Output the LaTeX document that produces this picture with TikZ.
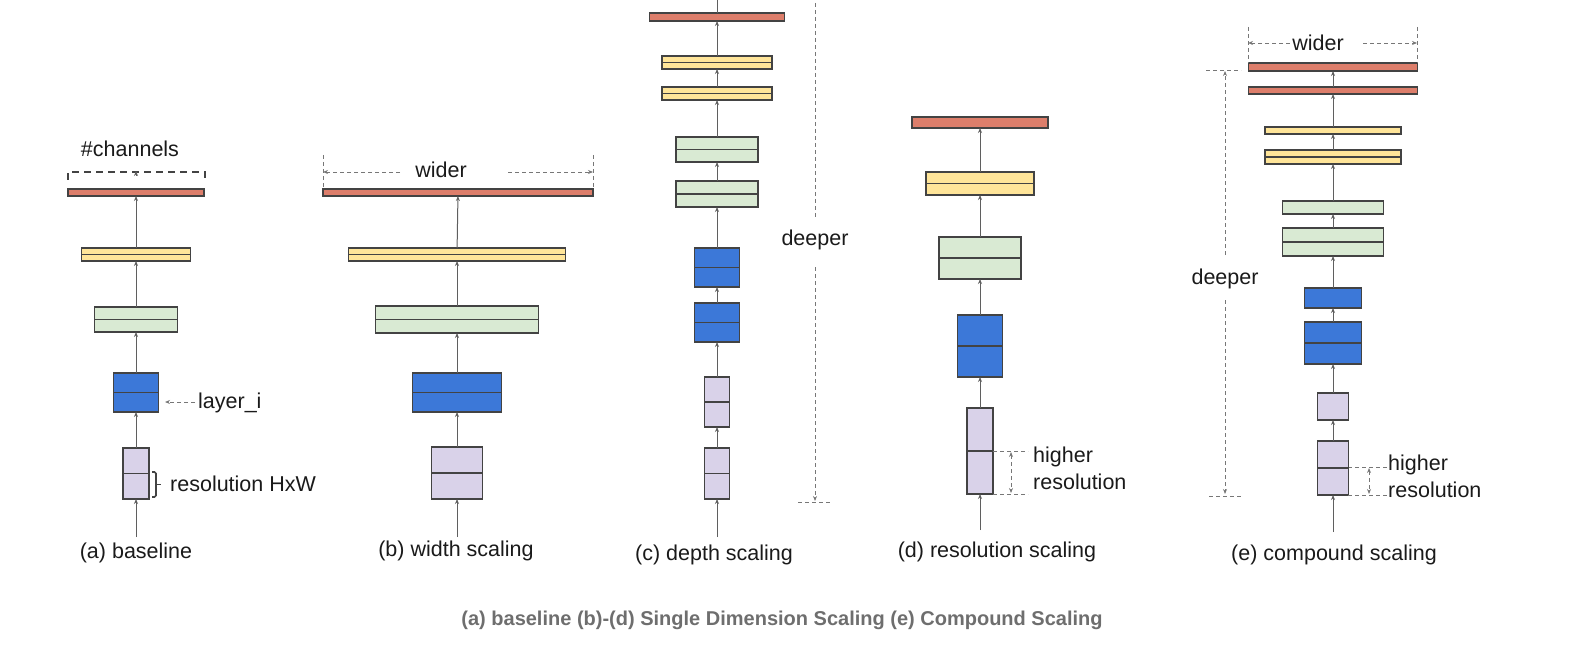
\documentclass[tikz,border=0pt]{standalone}
\usepackage{fontspec}
\setmainfont{Liberation Sans}
\usetikzlibrary{arrows.meta}

\definecolor{redc}{HTML}{DD7E6B}
\definecolor{yellowc}{HTML}{FFE599}
\definecolor{greenc}{HTML}{D9EAD3}
\definecolor{bluec}{HTML}{3C78D8}
\definecolor{lavc}{HTML}{D9D2E9}
\definecolor{edgec}{HTML}{434343}
\definecolor{flowc}{HTML}{5F5F5F}
\definecolor{dimc}{HTML}{777777}
\definecolor{textc}{HTML}{1A1A1A}
\definecolor{capc}{HTML}{6E6E6E}

\tikzset{
  layer/.style={draw=edgec, line width=1.4pt, inner sep=0pt, outer sep=0pt},
  redbar/.style={layer, fill=redc},
  yellowbox/.style={layer, fill=yellowc},
  greenbox/.style={layer, fill=greenc},
  bluebox/.style={layer, fill=bluec},
  lavbox/.style={layer, fill=lavc},
  midline/.style={draw=edgec, line width=1.4pt},
  flow/.style={draw=flowc, line width=1pt, -{Stealth[length=5pt,width=4pt]}},
  dim/.style={draw=dimc, line width=0.9pt, dash pattern=on 4pt off 3pt},
  tip/.style={-{Stealth[length=5pt,width=4pt]}},
  lbl/.style={font=\fontsize{21.5}{27}\selectfont, text=textc, inner sep=0pt},
}

\begin{document}
\begin{tikzpicture}[x=1pt,y=-1pt]
  \useasboundingbox (0,0) rectangle (1570,652);

  % (a) baseline
  \node[lavbox, minimum width=26pt, minimum height=51pt] (a1) at (136,473.5) {};
  \node[bluebox, minimum width=45pt, minimum height=39pt] (a2) at (136,392.5) {};
  \node[greenbox, minimum width=83pt, minimum height=25pt] (a3) at (136,319.5) {};
  \node[yellowbox, minimum width=109pt, minimum height=13pt] (a4) at (136,254.5) {};
  \node[redbar, minimum width=136pt, minimum height=7pt] (a5) at (136,192.5) {};
  \coordinate (a0) at (136,537);
  \draw[flow] (a0) -- (a1);
  \draw[flow] (a1) -- (a2);
  \draw[flow] (a2) -- (a3);
  \draw[flow] (a3) -- (a4);
  \draw[flow] (a4) -- (a5);

  \draw[draw=edgec, line width=2pt, dash pattern=on 7pt off 5pt] (68,180) -- (68,172) -- (205,172) -- (205,180);
  \draw[draw=flowc, line width=1pt, tip] (136,176) -- (136,171);
  \node[lbl] (chan) at (130,149) {\#channels};

  \node[lbl, anchor=west] (layi) at (198,403) {layer\_i};
  \draw[dim, tip] (195,402) -- (165,402);

  \draw[draw=edgec, line width=1.6pt, rounded corners=1.5pt] (152,472) -- (156,472) -- (156,497) -- (152,497);
  \draw[draw=edgec, line width=1.6pt] (156,484.5) -- (161,484.5);
  \node[lbl, anchor=west] (resa) at (170,484) {resolution HxW};

  \node[lbl] (capa) at (136,553) {(a) baseline};

  % (b) width scaling
  \node[lavbox, minimum width=51pt, minimum height=52pt] (b1) at (457,473) {};
  \node[bluebox, minimum width=89pt, minimum height=39pt] (b2) at (457,392.5) {};
  \node[greenbox, minimum width=163pt, minimum height=27pt] (b3) at (457,319.5) {};
  \node[yellowbox, minimum width=217pt, minimum height=13pt] (b4) at (457,254.5) {};
  \node[redbar, minimum width=270pt, minimum height=7pt] (b5) at (458,192.5) {};
  \coordinate (b0) at (457,537);
  \draw[flow] (b0) -- (b1);
  \draw[flow] (b1) -- (b2);
  \draw[flow] (b2) -- (b3);
  \draw[flow] (b3) -- (b4);
  \draw[flow] (b4) -- (b5);

  \node[lbl] (widb) at (441,170) {wider};
  \draw[dim] (323,155) -- (323,189);
  \draw[dim] (593,155) -- (593,189);
  \draw[dim, tip] (400,172) -- (323,172);
  \draw[dim, tip] (508,172) -- (593,172);

  \node[lbl] (capb) at (456,551) {(b) width scaling};

  % (c) depth scaling
  \node[lavbox, minimum width=25pt, minimum height=51pt] (c1) at (717,473.5) {};
  \node[lavbox, minimum width=25pt, minimum height=50pt] (c2) at (717,402) {};
  \node[bluebox, minimum width=45pt, minimum height=39pt] (c3) at (717,322.5) {};
  \node[bluebox, minimum width=45pt, minimum height=39pt] (c4) at (717,267.5) {};
  \node[greenbox, minimum width=82pt, minimum height=26pt] (c5) at (717,194) {};
  \node[greenbox, minimum width=82pt, minimum height=25pt] (c6) at (717,149.5) {};
  \node[yellowbox, minimum width=110pt, minimum height=13pt] (c7) at (717,93.5) {};
  \node[yellowbox, minimum width=110pt, minimum height=13pt] (c8) at (717,62.5) {};
  \node[redbar, minimum width=135pt, minimum height=8pt] (c9) at (717,17) {};
  \coordinate (c0) at (717,537);
  \coordinate (ctop) at (717,0);
  \draw[flow] (c0) -- (c1);
  \draw[flow] (c1) -- (c2);
  \draw[flow] (c2) -- (c3);
  \draw[flow] (c3) -- (c4);
  \draw[flow] (c4) -- (c5);
  \draw[flow] (c5) -- (c6);
  \draw[flow] (c6) -- (c7);
  \draw[flow] (c7) -- (c8);
  \draw[flow] (c8) -- (c9);
  \draw[draw=flowc, line width=1pt] (c9) -- (ctop);

  \node[lbl] (depc) at (815,240) {deeper};
  \draw[dim] (815,3) -- (815,217);
  \draw[dim, tip] (815,267) -- (815,501);
  \draw[dim] (798,502) -- (831,502);

  \node[lbl] (capc) at (714,555) {(c) depth scaling};

  % (d) resolution scaling
  \node[lavbox, minimum width=26pt, minimum height=86pt] (d1) at (980,451) {};
  \node[bluebox, minimum width=45pt, minimum height=62pt] (d2) at (980,346) {};
  \node[greenbox, minimum width=82pt, minimum height=42pt] (d3) at (980,258) {};
  \node[yellowbox, minimum width=108pt, minimum height=23pt] (d4) at (980,183.5) {};
  \node[redbar, minimum width=136pt, minimum height=11pt] (d5) at (980,122.5) {};
  \coordinate (d0) at (980,530);
  \draw[flow] (d0) -- (d1);
  \draw[flow] (d1) -- (d2);
  \draw[flow] (d2) -- (d3);
  \draw[flow] (d3) -- (d4);
  \draw[flow] (d4) -- (d5);

  \draw[dim] (993,451) -- (1028,451);
  \draw[dim] (993,494) -- (1028,494);
  \draw[dim, {Stealth[length=5pt,width=4pt]}-{Stealth[length=5pt,width=4pt]}] (1011,452) -- (1011,493);
  \node[lbl, anchor=west, align=left] (resd) at (1033,468.5) {higher\\resolution};

  \node[lbl] (capd) at (997,552) {(d) resolution scaling};

  % (e) compound scaling
  \node[lavbox, minimum width=31pt, minimum height=54pt] (e1) at (1333,468) {};
  \node[lavbox, minimum width=31pt, minimum height=27pt] (e2) at (1333,406.5) {};
  \node[bluebox, minimum width=57pt, minimum height=42pt] (e3) at (1333,343) {};
  \node[bluebox, minimum width=57pt, minimum height=20pt] (e4) at (1333,298) {};
  \node[greenbox, minimum width=101pt, minimum height=28pt] (e5) at (1333,242) {};
  \node[greenbox, minimum width=101pt, minimum height=13pt] (e6) at (1333,207.5) {};
  \node[yellowbox, minimum width=136pt, minimum height=14pt] (e7) at (1333,157) {};
  \node[yellowbox, minimum width=136pt, minimum height=7pt] (e8) at (1333,130.5) {};
  \node[redbar, minimum width=169pt, minimum height=7pt] (e9) at (1333,90.5) {};
  \node[redbar, minimum width=169pt, minimum height=8pt] (e10) at (1333,67) {};
  \coordinate (e0) at (1333,532);
  \draw[flow] (e0) -- (e1);
  \draw[flow] (e1) -- (e2);
  \draw[flow] (e2) -- (e3);
  \draw[flow] (e3) -- (e4);
  \draw[flow] (e4) -- (e5);
  \draw[flow] (e5) -- (e6);
  \draw[flow] (e6) -- (e7);
  \draw[flow] (e7) -- (e8);
  \draw[flow] (e8) -- (e9);
  \draw[flow] (e9) -- (e10);

  \node[lbl] (wide) at (1318,43) {wider};
  \draw[dim] (1248,27) -- (1248,63);
  \draw[dim] (1417,27) -- (1417,63);
  \draw[dim, tip] (1290,43) -- (1248,43);
  \draw[dim, tip] (1363,43) -- (1417,43);

  \node[lbl] (depe) at (1225,279) {deeper};
  \draw[dim] (1206,70) -- (1241,70);
  \draw[dim, tip] (1225,255) -- (1225,71);
  \draw[dim, tip] (1225,300) -- (1225,494);
  \draw[dim] (1209,496) -- (1242,496);

  \draw[dim] (1348,467) -- (1387,467);
  \draw[dim] (1348,495) -- (1387,495);
  \draw[dim, {Stealth[length=5pt,width=4pt]}-{Stealth[length=5pt,width=4pt]}] (1369,468) -- (1369,494);
  \node[lbl, anchor=west, align=left] (rese) at (1388,476) {higher\\resolution};

  \node[lbl] (cape) at (1334,555) {(e) compound scaling};

  % middle lines of the two-part layers
  \foreach \n in {a1,a2,a3,a4,b1,b2,b3,b4,c1,c2,c3,c4,c5,c6,c7,c8,d1,d2,d3,d4,e1,e3,e5,e7}
    \draw[midline] (\n.west) -- (\n.east);

  \node[font=\fontsize{20}{24}\selectfont\bfseries, text=capc, inner sep=0pt] (cap) at (782,620)
    {(a) baseline (b)-(d) Single Dimension Scaling (e) Compound Scaling};
\end{tikzpicture}
\end{document}
